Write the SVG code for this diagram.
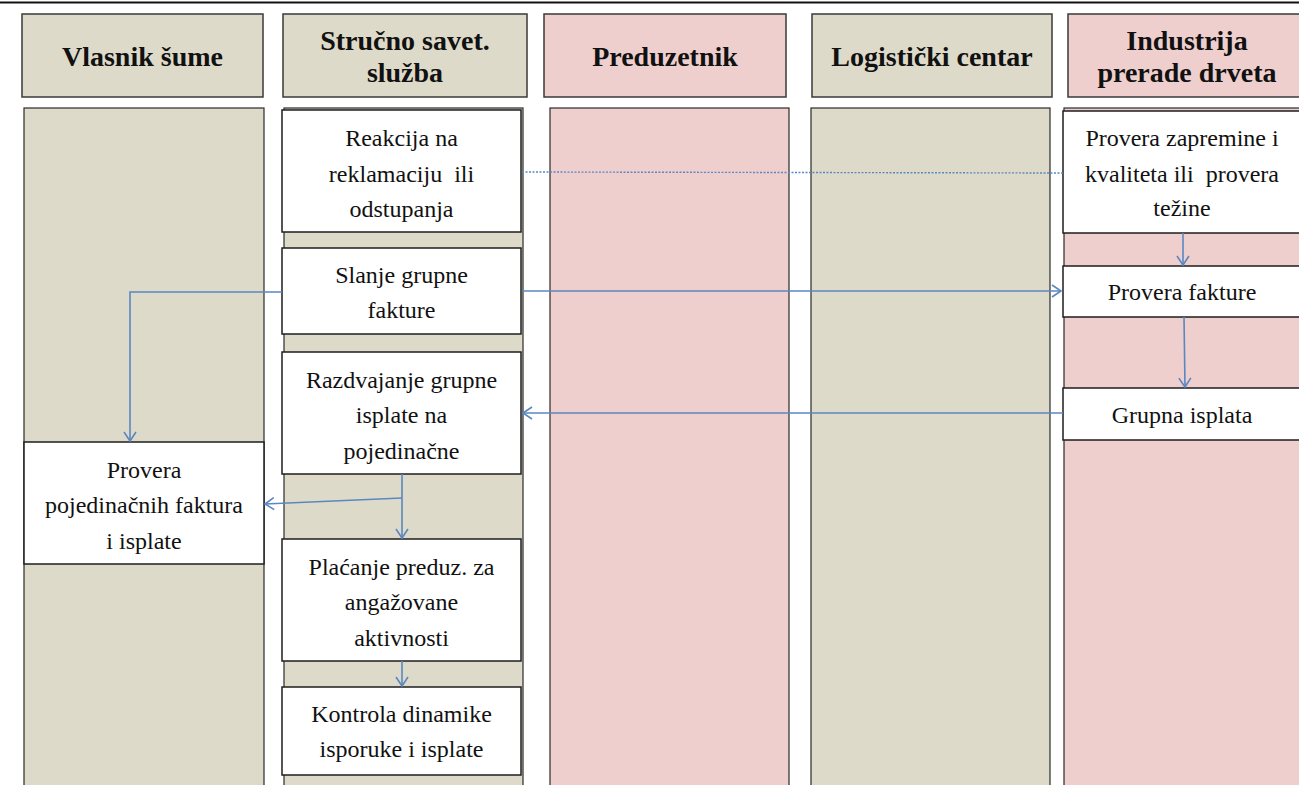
<svg xmlns="http://www.w3.org/2000/svg" width="1299" height="785" viewBox="0 0 1299 785">
<style>
.hd{stroke:#3a3a3a;stroke-width:1.5}
.beige{fill:#dedac9}
.pink{fill:#eecfcd}
.lane{stroke:#2a2a2a;stroke-width:1.2}
.box{fill:#ffffff;stroke:#1e1e1e;stroke-width:1.5}
.ht{font-family:"Liberation Serif","Times New Roman",serif;font-weight:bold;font-size:28px;fill:#111;text-anchor:middle}
.bt{font-family:"Liberation Serif","Times New Roman",serif;font-size:24px;fill:#111;text-anchor:middle}
.c{fill:none;stroke:#5b87c0;stroke-width:1.6}
.d{fill:none;stroke:#5b87c0;stroke-width:1.4;stroke-dasharray:2 1.5}
</style>
<defs>
<marker id="ar" markerUnits="userSpaceOnUse" markerWidth="12" markerHeight="14" refX="10" refY="7" orient="auto">
<path d="M1,1 L10,7 L1,13" fill="none" stroke="#5b87c0" stroke-width="1.6"/>
</marker>
</defs>
<rect x="0" y="0" width="1299" height="785" fill="#ffffff"/>
<line x1="0" y1="2.5" x2="1299" y2="2.5" stroke="#111" stroke-width="2"/>

<g id="lanes">
<rect class="beige lane" x="24" y="108" width="240" height="690"/>
<rect class="beige lane" x="284" y="108" width="239" height="690"/>
<rect class="pink lane" x="550" y="108" width="239" height="690"/>
<rect class="beige lane" x="811" y="108" width="239" height="690"/>
<rect class="pink lane" x="1064" y="108" width="245" height="690"/>
</g>

<g id="h1"><rect class="hd beige" x="22" y="14" width="241" height="83"/><text class="ht" x="142.5" y="66">Vlasnik šume</text></g>
<g id="h2"><rect class="hd beige" x="283" y="14" width="244" height="83"/><text class="ht" x="405" y="50">Stručno savet.</text><text class="ht" x="405" y="82">služba</text></g>
<g id="h3"><rect class="hd pink" x="544" y="14" width="242" height="83"/><text class="ht" x="665" y="66">Preduzetnik</text></g>
<g id="h4"><rect class="hd beige" x="812" y="14" width="240" height="83"/><text class="ht" x="932" y="66">Logistički centar</text></g>
<g id="h5"><rect class="hd pink" x="1068" y="14" width="240" height="83"/><text class="ht" x="1187" y="50">Industrija</text><text class="ht" x="1187" y="82">prerade drveta</text></g>

<g id="n_reakcija"><rect class="box" x="282" y="110" width="239" height="122"/>
<text class="bt" x="401.5" y="146">Reakcija na</text><text class="bt" x="401.5" y="181.5" xml:space="preserve">reklamaciju  ili</text><text class="bt" x="401.5" y="217">odstupanja</text></g>
<g id="n_slanje"><rect class="box" x="282" y="248" width="239" height="86"/>
<text class="bt" x="401.5" y="283">Slanje grupne</text><text class="bt" x="401.5" y="318">fakture</text></g>
<g id="n_razdvajanje"><rect class="box" x="282" y="352" width="239" height="122"/>
<text class="bt" x="401.5" y="387.5">Razdvajanje grupne</text><text class="bt" x="401.5" y="423">isplate na</text><text class="bt" x="401.5" y="458.5">pojedinačne</text></g>
<g id="n_placanje"><rect class="box" x="282" y="539" width="239" height="122"/>
<text class="bt" x="401.5" y="574.5">Plaćanje preduz. za</text><text class="bt" x="401.5" y="610">angažovane</text><text class="bt" x="401.5" y="645.5">aktivnosti</text></g>
<g id="n_kontrola"><rect class="box" x="282" y="687" width="239" height="88"/>
<text class="bt" x="401.5" y="722">Kontrola dinamike</text><text class="bt" x="401.5" y="757">isporuke i isplate</text></g>
<g id="n_provera_poj"><rect class="box" x="24" y="442" width="240" height="122"/>
<text class="bt" x="144" y="477.5">Provera</text><text class="bt" x="144" y="513">pojedinačnih faktura</text><text class="bt" x="144" y="548.5">i isplate</text></g>
<g id="n_zapremine"><rect class="box" x="1063" y="111" width="240" height="122"/>
<text class="bt" x="1182" y="146">Provera zapremine i</text><text class="bt" x="1182" y="182" xml:space="preserve">kvaliteta ili  provera</text><text class="bt" x="1182" y="216">težine</text></g>
<g id="n_fakture"><rect class="box" x="1063" y="266" width="240" height="51"/>
<text class="bt" x="1182" y="300">Provera fakture</text></g>
<g id="n_grupna"><rect class="box" x="1063" y="388" width="240" height="52"/>
<text class="bt" x="1182" y="423">Grupna isplata</text></g>

<g id="connectors">
<line class="d" x1="522" y1="172" x2="1063" y2="173"/>
<polyline class="c" points="522,291 1061,291" marker-end="url(#ar)"/>
<polyline class="c" points="282,292 130,292 130,441" marker-end="url(#ar)"/>
<polyline class="c" points="1063,413 523,413" marker-end="url(#ar)"/>
<polyline class="c" points="1183,233 1183,265" marker-end="url(#ar)"/>
<polyline class="c" points="1184,317 1185,387" marker-end="url(#ar)"/>
<polyline class="c" points="402,474 402,538" marker-end="url(#ar)"/>
<polyline class="c" points="402,498 265,504" marker-end="url(#ar)"/>
<polyline class="c" points="402,661 402,686" marker-end="url(#ar)"/>
</g>
</svg>
